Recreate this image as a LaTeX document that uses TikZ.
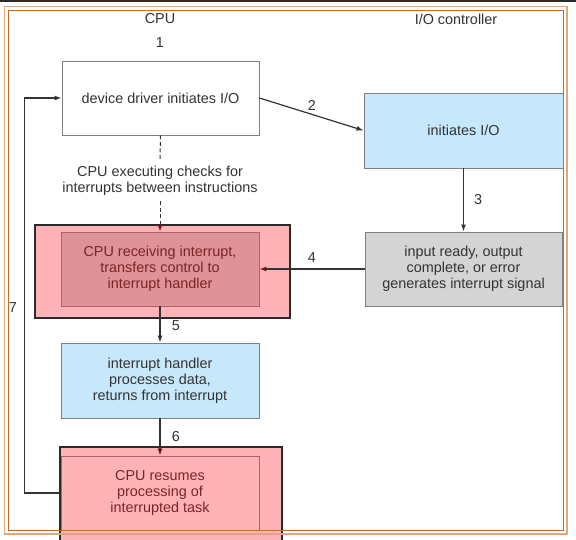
\documentclass[tikz,border=0pt]{standalone}
\usepackage{fontspec}
\setmainfont{Liberation Sans}
\usepackage{xcolor}
\usetikzlibrary{arrows.meta}

\definecolor{framedark}{HTML}{C66A28}
\definecolor{framelight}{HTML}{E3A676}
\definecolor{topbar}{HTML}{2B2B2B}
\definecolor{boxline}{HTML}{808080}
\definecolor{boxblue}{HTML}{C6E8FA}
\definecolor{boxgray}{HTML}{D4D4D4}
\definecolor{pinkout}{HTML}{FFB3B7}
\definecolor{pinkin}{HTML}{DD9397}
\definecolor{pinkline}{HTML}{A6666A}
\definecolor{textgray}{HTML}{333333}
\definecolor{textred}{HTML}{7A2428}
\definecolor{tipred}{HTML}{6E1518}

\begin{document}
\begin{tikzpicture}[x=1pt, y=-1pt,
		font=\fontsize{14.4}{16}\selectfont,
		plainbox/.style={draw=boxline, line width=0.9pt, inner sep=0pt, align=center, text=textgray},
		outerbox/.style={draw=topbar, line width=1.2pt, fill=pinkout, inner sep=0pt},
		innerbox/.style={draw=pinkline, line width=0.9pt, fill=pinkin, inner sep=0pt, align=center, text=textred},
		tag/.style={inner sep=0pt, text=textgray},
		flow/.style={draw=textgray, line width=1.2pt, -{Latex[length=7pt, width=5pt]}},
		redflow/.style={draw=textgray, line width=1.2pt, -{Latex[length=7pt, width=5pt, color=tipred]}}]
		\useasboundingbox[fill=white] (0,0) rectangle (576,540);

		% Headings
		\node[tag] (cpu) at (160,19) {CPU};
		\node[tag] (ioctl) at (456,19) {I/O controller};
		\node[tag] (lbl1) at (160,43) {1};

		% Device driver
		\node[plainbox, fill=white, minimum width=197pt, minimum height=74pt] (driver) at (160.5,98) {device driver initiates I/O};

		% Controller starts
		\node[plainbox, fill=boxblue, minimum width=199pt, minimum height=75pt] (ctrlstart) at (463.5,130.5) {initiates I/O};

		% Checks
		\node[tag, align=center, inner ysep=5.5pt] (checks) at (160,181) {CPU executing checks for\\interrupts between instructions};

		% Receiving interrupt
		\node[outerbox, minimum width=255pt, minimum height=93pt] (recvouter) at (162.5,271.5) {};
		\node[innerbox, minimum width=198pt, minimum height=74pt] (recv) at (160,269) {CPU receiving interrupt,\\transfers control to\\interrupt handler};

		% Signal
		\node[plainbox, fill=boxgray, minimum width=197pt, minimum height=74pt] (signal) at (463.5,269) {input ready, output\\complete, or error\\generates interrupt signal};

		% Handler
		\node[plainbox, fill=boxblue, minimum width=198pt, minimum height=75pt] (handler) at (160,380.5) {interrupt handler\\processes data,\\returns from interrupt};

		% Resume
		\node[outerbox, minimum width=222pt, minimum height=113pt] (resumeouter) at (171,503.5) {};
		\node[innerbox, fill=pinkout, minimum width=198pt, minimum height=74pt] (resume) at (160,493) {CPU resumes\\processing of\\interrupted task};

		% Connectors
		\draw[flow] (driver.east) -- (ctrlstart.west);
		\node[tag] (lbl2) at (312,105) {2};
		\draw[flow] (ctrlstart.south) -- (signal.north);
		\node[tag] (lbl3) at (478,200) {3};
		\draw[redflow] (signal.west) -- (recv.east);
		\node[tag] (lbl4) at (312,258) {4};
		\draw[flow] (recv.south) -- (handler.north);
		\node[tag] (lbl5) at (176,326) {5};
		\draw[redflow] (handler.south) -- (resume.north);
		\node[tag] (lbl6) at (176,437) {6};
		\draw[flow] (resumeouter.west |- resume.west) -- ++(-35,0) |- (driver.west);
		\node[tag] (lbl7) at (13,308) {7};
		\draw[draw=textgray, line width=1pt, dash pattern=on 4pt off 2.5pt] (driver.south) -- (checks.north);
		\draw[redflow, line width=1pt, dash pattern=on 4pt off 2.5pt] (checks.south) -- (recv.north);

		% Frame
		\fill[topbar] (0,0) rectangle (576,2.5);
		\draw[framelight, line width=1.3pt] (4.5,6.5) rectangle (567,534);
		\draw[framedark, line width=1.8pt] (8.5,10.5) rectangle (563.5,530.5);
	\end{tikzpicture}
\end{document}
